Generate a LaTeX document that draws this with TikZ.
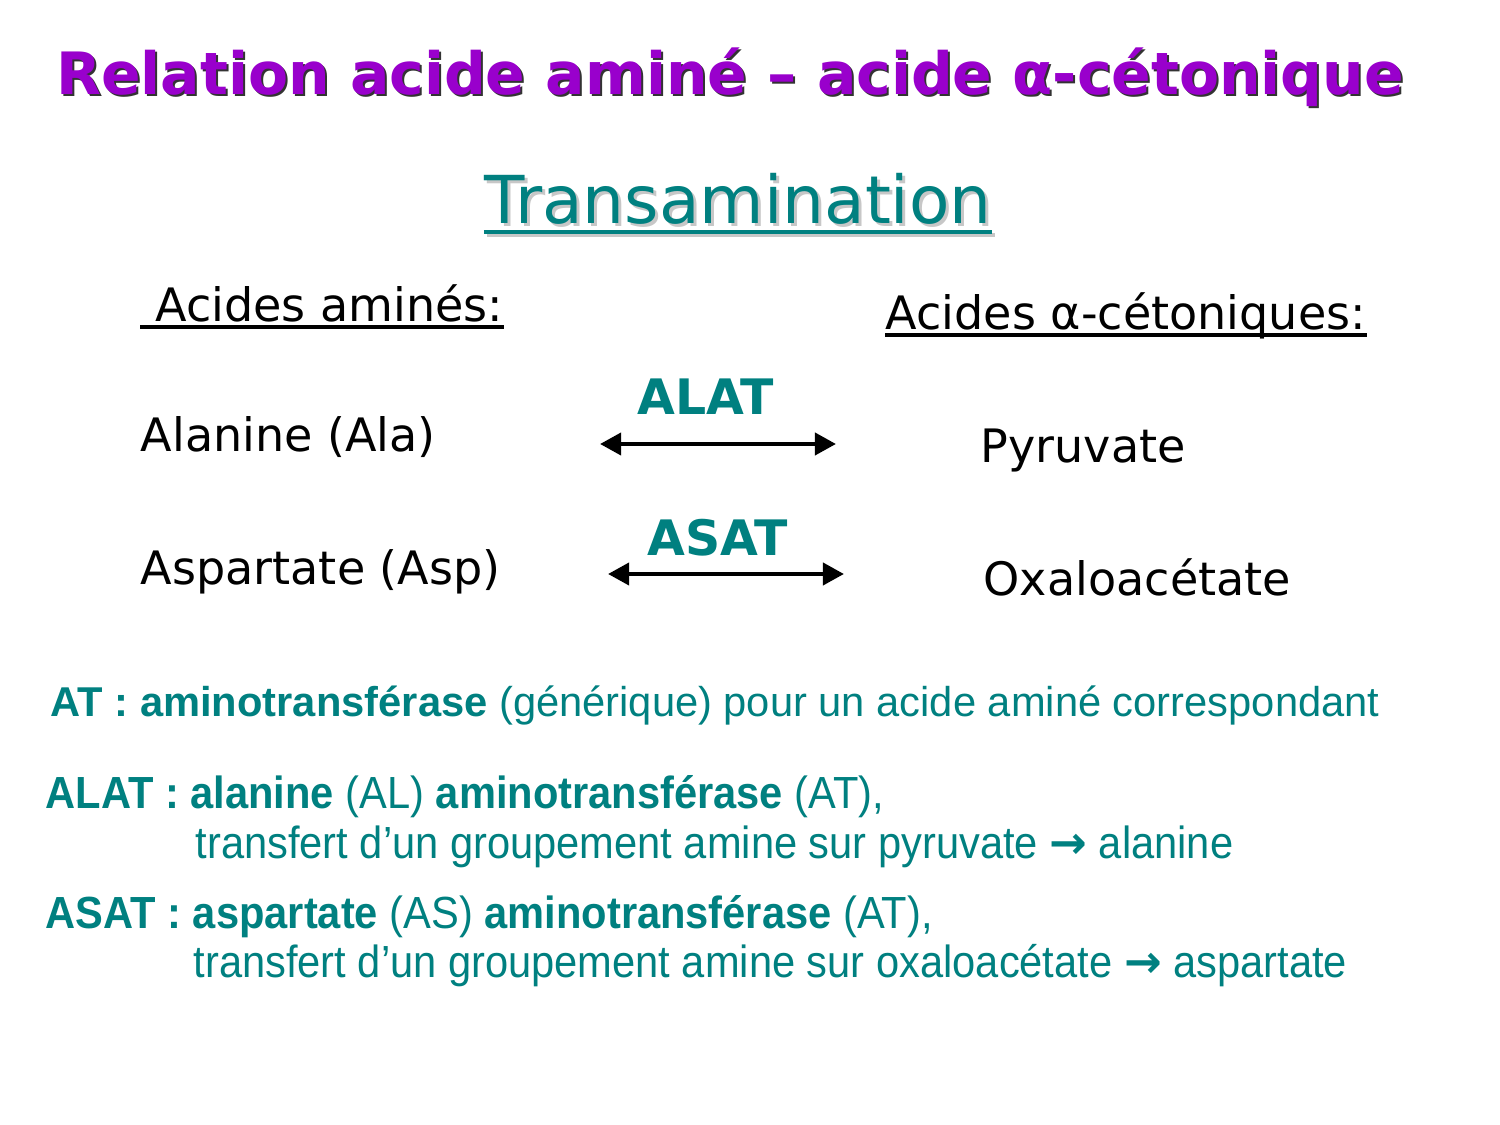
\documentclass[tikz,border=0pt]{standalone}
\usepackage{fontspec}
\setmainfont{DejaVu Sans}
\newfontfamily\arialfont{Liberation Sans}
\newfontfamily\narrowfont[FakeStretch=0.925]{Liberation Sans}
\newfontfamily\arrowfont{DejaVu Sans}
\usetikzlibrary{calc,arrows.meta}
\definecolor{titlepurple}{RGB}{153,0,204}
\definecolor{slideteal}{RGB}{0,128,128}
\def\fsize#1{\fontsize{#1}{#1}\selectfont}
\def\thickto{{\arrowfont\bfseries →}}
\tikzset{
  txt/.style={inner sep=0pt, anchor=base west},
  titletxt/.style={inner sep=0pt, anchor=base, font=\fsize{16.6}\bfseries, text=titlepurple},
  bodytxt/.style={txt, font=\fsize{13.1}},
  enztxt/.style={inner sep=0pt, anchor=base, font=\fsize{13.9}\bfseries, text=slideteal},
  biarrow/.style={line width=1.3pt, {Triangle[length=6pt,width=6.2pt]}-{Triangle[length=6pt,width=6.2pt]}},
  notetxt/.style={txt, font=\arialfont\fsize{11.85}, text=slideteal},
  narrowtxt/.style={txt, font=\narrowfont\fsize{12.8}, text=slideteal}
}

\begin{document}
\begin{tikzpicture}[x=0.01cm,y=-0.01cm]
	%%%%% START %%%%%
	\useasboundingbox[fill=white] (0,0) rectangle (1500,1125);
	
	\node[titletxt, text=black!80] (title-shadow) at (732,97) {Relation acide aminé – acide α-cétonique};
	\node[titletxt] (title) at (730,95) {Relation acide aminé – acide α-cétonique};
	
	\node[inner sep=0pt, anchor=base, font=\fsize{18.8}, text=black!22] (trans-shadow) at (741,227) {Transamination};
	\node[inner sep=0pt, anchor=base, font=\fsize{18.8}, text=slideteal] (trans) at (738,224) {Transamination};
	\draw[line width=1.2pt, black!22] ($(trans.base west)+(3,11)$) -- ($(trans.base east)+(3,11)$);
	\draw[line width=1.2pt, slideteal] ($(trans.base west)+(0,8)$) -- ($(trans.base east)+(0,8)$);
	
	\node[bodytxt] (amines) at (140,322) {\ Acides aminés:};
	\draw[line width=0.9pt] ($(amines.base west)+(0,5)$) -- ($(amines.base east)+(0,5)$);
	\node[bodytxt] (cetos) at (885,330) {Acides α-cétoniques:};
	\draw[line width=0.9pt] ($(cetos.base west)+(0,5)$) -- ($(cetos.base east)+(0,5)$);
	
	\node[bodytxt] (ala) at (140,452) {Alanine (Ala)};
	\node[bodytxt] (pyr) at (980,463) {Pyruvate};
	\node[bodytxt] (asp) at (140,585) {Aspartate (Asp)};
	\node[bodytxt] (oxa) at (983,596) {Oxaloacétate};
	
	\node[enztxt] (alat) at (706,415) {ALAT};
	\coordinate (alat-w) at (600,444);
	\coordinate (alat-e) at (836,444);
	\draw[biarrow] (alat-w) -- (alat-e);
	
	\node[enztxt] (asat) at (718,556) {ASAT};
	\coordinate (asat-w) at (608,574);
	\coordinate (asat-e) at (844,574);
	\draw[biarrow] (asat-w) -- (asat-e);
	
	\node[notetxt] (at-note) at (50,716) {\textbf{AT : aminotransférase} (générique) pour un acide aminé correspondant};
	
	\node[narrowtxt] (alat-note) at (45,808) {\textbf{ALAT : alanine} (AL) \textbf{aminotransférase} (AT),};
	\node[narrowtxt] (alat-sub) at (195,858) {transfert d’un groupement amine sur pyruvate \thickto\ alanine};
	\node[narrowtxt] (asat-note) at (45,928) {\textbf{ASAT : aspartate} (AS) \textbf{aminotransférase} (AT),};
	\node[narrowtxt] (asat-sub) at (193,977) {transfert d’un groupement amine sur oxaloacétate \thickto\ aspartate};
	
	%%%%% END %%%%%
\end{tikzpicture}
\end{document}
